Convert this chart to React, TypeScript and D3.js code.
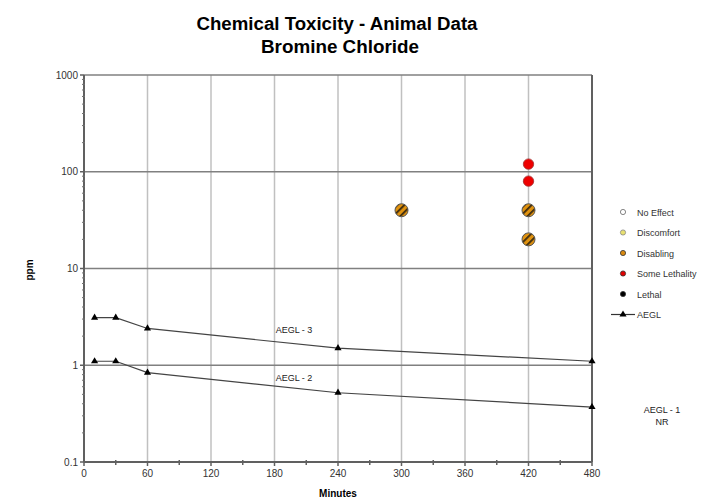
import React from "react";
import * as d3 from "d3";

const TITLE1 = "Chemical Toxicity - Animal Data";
const TITLE2 = "Bromine Chloride";
const xTicks = [0, 60, 120, 180, 240, 300, 360, 420, 480];
const yTicks = [0.1, 1, 10, 100, 1000];
const aeglMinutes = [10, 30, 60, 240, 480];
const aegl3 = [3.1, 3.1, 2.4, 1.5, 1.1];
const aegl2 = [1.1, 1.1, 0.84, 0.52, 0.37];
const disablingMinutes = [300, 420, 420];
const disablingPpm = [40, 40, 20];
const lethalityMinutes = [420, 420];
const lethalityPpm = [120, 80];
const legendItems = ["No Effect", "Discomfort", "Disabling", "Some Lethality", "Lethal", "AEGL"];
const legendColors = ["#ffffff", "#e8e070", "#d98a10", "#e00000", "#000000", "none"];

const W = 704, H = 500;
const L = 84, R = 592, T = 75, B = 462;

export default function App() {
  const x = d3.scaleLinear().domain([0, 480]).range([L, R]);
  const y = d3.scaleLog().domain([0.1, 1000]).range([B, T]);
  const line = d3.line<[number, number]>().x(d => x(d[0])).y(d => y(d[1]));
  const minorY: number[] = [];
  for (let e = -1; e < 3; e++) for (let k = 2; k <= 9; k++) minorY.push(k * Math.pow(10, e));
  const minorX = d3.range(30, 480, 60);
  const font = "Arial, 'Liberation Sans', sans-serif";
  const tri = d3.symbol().type(d3.symbolTriangle).size(22)();
  const legY = (i: number) => 212 + i * 20.5;
  return (
    <svg width={W} height={H} style={{ position: "absolute", left: 0, top: 0, background: "#fff" }} fontFamily={font}>
      <defs>
        <pattern id="hatch" patternUnits="userSpaceOnUse" width="5" height="5" patternTransform="rotate(45)">
          <rect width="5" height="5" fill="#e0920f" />
          <rect width="1.8" height="5" fill="#3a2a10" />
        </pattern>
      </defs>
      <text x={337} y={30} textAnchor="middle" fontSize={18} fontWeight="bold" textLength={281} lengthAdjust="spacingAndGlyphs">{TITLE1}</text>
      <text x={340} y={52.5} textAnchor="middle" fontSize={18} fontWeight="bold" textLength={158} lengthAdjust="spacingAndGlyphs">{TITLE2}</text>
      {xTicks.slice(1, -1).map(t => (
        <line key={"vx" + t} x1={x(t)} x2={x(t)} y1={T} y2={B} stroke="#c0c0c0" strokeWidth={1.5} />
      ))}
      {yTicks.slice(1, -1).map(t => (
        <line key={"hy" + t} x1={L} x2={R} y1={y(t)} y2={y(t)} stroke="#808080" strokeWidth={1.5} />
      ))}
      <line x1={L} x2={R} y1={T} y2={T} stroke="#808080" strokeWidth={1.5} />
      <line x1={R} x2={R} y1={T} y2={B} stroke="#606060" strokeWidth={2} />
      <line x1={L} x2={L} y1={T} y2={B} stroke="#606060" strokeWidth={2} />
      <line x1={L} x2={R} y1={B} y2={B} stroke="#606060" strokeWidth={2} />
      {minorY.map(t => (
        <line key={"my" + t} x1={L - 2} x2={L + 1} y1={y(t)} y2={y(t)} stroke="#707070" strokeWidth={1} />
      ))}
      {yTicks.map(t => (
        <line key={"ty" + t} x1={L - 4} x2={L} y1={y(t)} y2={y(t)} stroke="#606060" strokeWidth={1.5} />
      ))}
      {minorX.map(t => (
        <line key={"mx" + t} x1={x(t)} x2={x(t)} y1={B - 2} y2={B + 3} stroke="#606060" strokeWidth={1.5} />
      ))}
      {xTicks.map(t => (
        <line key={"tx" + t} x1={x(t)} x2={x(t)} y1={B} y2={B + 4} stroke="#606060" strokeWidth={1.5} />
      ))}
      {yTicks.map(t => (
        <text key={"ly" + t} x={L - 6} y={y(t) + 3.5} textAnchor="end" fontSize={10} fill="#333">{String(t)}</text>
      ))}
      {xTicks.map(t => (
        <text key={"lx" + t} x={x(t)} y={B + 15} textAnchor="middle" fontSize={10} fill="#333">{String(t)}</text>
      ))}
      <text x={338} y={497} textAnchor="middle" fontSize={10} fontWeight="bold">Minutes</text>
      <text transform={`translate(33,270) rotate(-90)`} textAnchor="middle" fontSize={10} fontWeight="bold">ppm</text>
      {[aegl3, aegl2].map((s, si) => (
        <g key={"aegl" + si}>
          <path d={line(aeglMinutes.map((m, i) => [m, s[i]] as [number, number])) || ""} fill="none" stroke="#444" strokeWidth={1.2} />
          {aeglMinutes.map((m, i) => (
            <path key={i} d={tri || ""} transform={`translate(${x(m)},${y(s[i])})`} fill="#000" />
          ))}
        </g>
      ))}
      <text x={294} y={333} textAnchor="middle" fontSize={9} fill="#222">AEGL - 3</text>
      <text x={294} y={381} textAnchor="middle" fontSize={9} fill="#222">AEGL - 2</text>
      <text x={662} y={413} textAnchor="middle" fontSize={9} fill="#222">AEGL - 1</text>
      <text x={662} y={425} textAnchor="middle" fontSize={9} fill="#222">NR</text>
      {disablingMinutes.map((m, i) => (
        <circle key={"d" + i} cx={x(m)} cy={y(disablingPpm[i])} r={6.5} fill="url(#hatch)" stroke="#555" strokeWidth={1} />
      ))}
      {lethalityMinutes.map((m, i) => (
        <circle key={"l" + i} cx={x(m)} cy={y(lethalityPpm[i])} r={5.2} fill="#ee0000" stroke="#a03030" strokeWidth={0.8} />
      ))}
      {legendItems.map((name, i) => (
        <g key={"leg" + i}>
          {i < 5 ? (
            <circle cx={623} cy={legY(i)} r={2.6} fill={legendColors[i]} stroke={i === 0 ? "#666" : i === 1 ? "#888" : "#333"} strokeWidth={0.8} />
          ) : (
            <g>
              <line x1={611} x2={635} y1={legY(i)} y2={legY(i)} stroke="#333" strokeWidth={1.2} />
              <path d={tri || ""} transform={`translate(623,${legY(i)})`} fill="#000" />
            </g>
          )}
          <text x={637} y={legY(i) + 3.5} fontSize={9} fill="#333">{name}</text>
        </g>
      ))}
    </svg>
  );
}
